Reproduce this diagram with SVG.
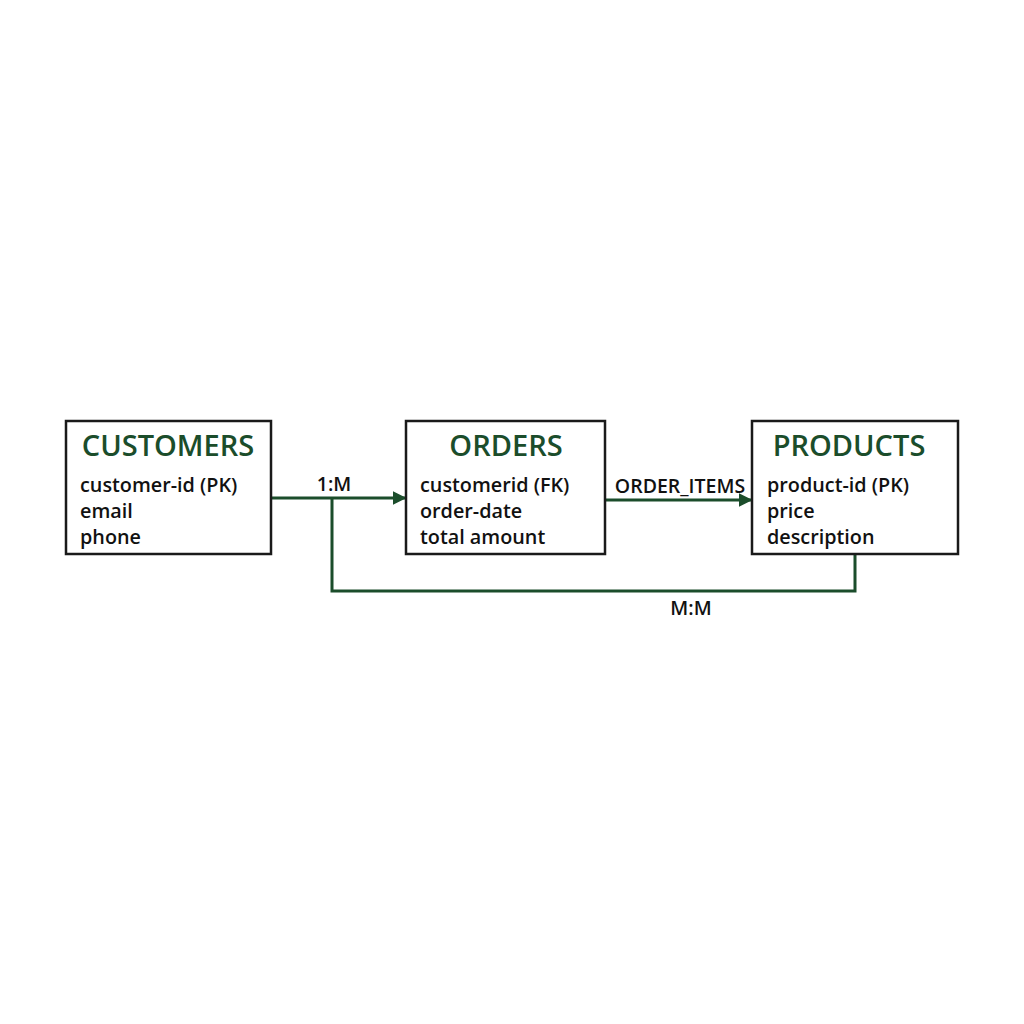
<svg xmlns="http://www.w3.org/2000/svg" width="1024" height="1024" viewBox="0 0 1024 1024">
<style>
.box{fill:#fff;stroke:#1a1a1a;stroke-width:2.5}
.title{font-family:"Open Sans","Noto Sans",sans-serif;font-weight:600;font-size:29px;fill:#1b4d2b;text-anchor:middle}
.field{font-family:"Open Sans","Noto Sans",sans-serif;font-weight:600;font-size:19.8px;fill:#111}
.lbl{font-family:"Open Sans","Noto Sans",sans-serif;font-weight:600;font-size:19.5px;fill:#111}
.conn{fill:none;stroke:#1b4d2b;stroke-width:3}
</style>
<defs>
<marker id="arr" viewBox="0 0 10 10" refX="9" refY="5" markerWidth="4.5" markerHeight="4.5" orient="auto" markerUnits="strokeWidth">
<path d="M0,0 L10,5 L0,10 z" fill="#1b4d2b"/>
</marker>
</defs>
<rect width="1024" height="1024" fill="#fff"/>
<g id="connectors">
<path class="conn" d="M271,498 L405,498" marker-end="url(#arr)"/>
<path class="conn" d="M332,498 L332,591 L855,591 L855,554"/>
<path class="conn" d="M605,500 L751,500" marker-end="url(#arr)"/>
<text class="lbl" x="334" y="491" text-anchor="middle">1:M</text>
<text class="lbl" x="680" y="493" text-anchor="middle">ORDER_ITEMS</text>
<text class="lbl" x="691" y="615" text-anchor="middle">M:M</text>
</g>
<g id="customers">
<rect class="box" x="66" y="421" width="205" height="133"/>
<text class="title" x="168" y="456">CUSTOMERS</text>
<text class="field" x="80" y="492">customer-id (PK)</text>
<text class="field" x="80" y="518">email</text>
<text class="field" x="80" y="544">phone</text>
</g>
<g id="orders">
<rect class="box" x="406" y="421" width="199" height="133"/>
<text class="title" x="506" y="456">ORDERS</text>
<text class="field" x="420" y="492">customerid (FK)</text>
<text class="field" x="420" y="518">order-date</text>
<text class="field" x="420" y="544">total amount</text>
</g>
<g id="products">
<rect class="box" x="752" y="421" width="206" height="133"/>
<text class="title" x="849" y="456">PRODUCTS</text>
<text class="field" x="767" y="492">product-id (PK)</text>
<text class="field" x="767" y="518">price</text>
<text class="field" x="767" y="544">description</text>
</g>
</svg>
